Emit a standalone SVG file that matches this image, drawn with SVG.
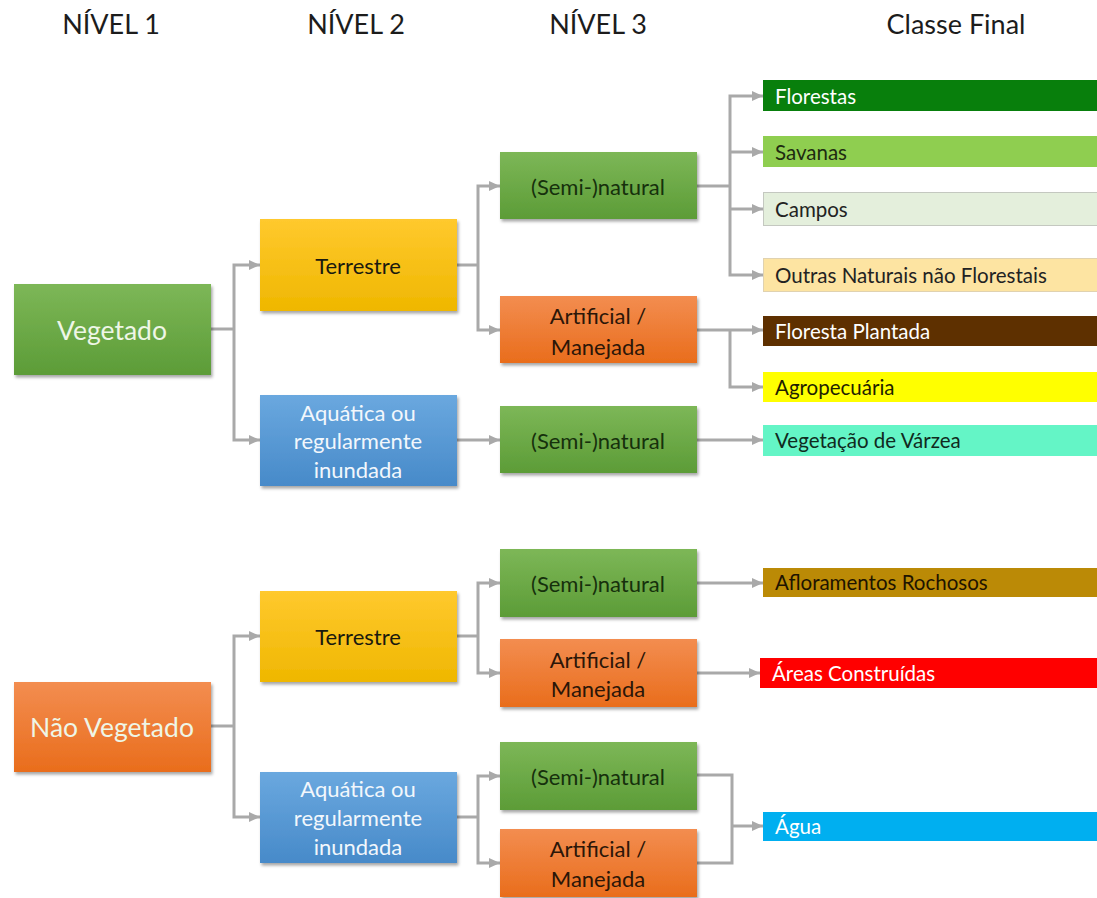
<svg xmlns="http://www.w3.org/2000/svg" width="1097" height="898" viewBox="0 0 1097 898">
  <defs>
    <linearGradient id="gGreen" x1="0" y1="0" x2="0" y2="1">
      <stop offset="0" stop-color="#7db757"/>
      <stop offset="1" stop-color="#5c9c37"/>
    </linearGradient>
    <linearGradient id="gOrange" x1="0" y1="0" x2="0" y2="1">
      <stop offset="0" stop-color="#f38d50"/>
      <stop offset="1" stop-color="#e96d1c"/>
    </linearGradient>
    <linearGradient id="gYellow" x1="0" y1="0" x2="0" y2="1">
      <stop offset="0" stop-color="#ffc92e"/>
      <stop offset="1" stop-color="#efb700"/>
    </linearGradient>
    <linearGradient id="gBlue" x1="0" y1="0" x2="0" y2="1">
      <stop offset="0" stop-color="#6aa8df"/>
      <stop offset="1" stop-color="#478ac9"/>
    </linearGradient>
    <filter id="shadow" x="-10%" y="-10%" width="125%" height="130%">
      <feDropShadow dx="1.5" dy="2.5" stdDeviation="1.8" flood-color="#000" flood-opacity="0.35"/>
    </filter>
    <marker id="arrow" markerUnits="userSpaceOnUse" markerWidth="12" markerHeight="12" refX="11" refY="6" orient="auto">
      <path d="M0,1 L11,6 L0,11 z" fill="#a9a9a9"/>
    </marker>
  </defs>
  <style>
    text { font-family: Lato, "Open Sans", "Liberation Sans", sans-serif; }
    .hdr { font-size: 27px; fill: #1c1c1c; text-anchor: middle; }
    .box { filter: url(#shadow); }
    .lbl { text-anchor: middle; dominant-baseline: central; }
    .l1 { font-size: 26.5px; fill: #eef6e6; }
    .l2 { font-size: 22px; }
    .dark { fill: #1a1a0e; }
    .darkg { fill: #16300c; }
    .darko { fill: #2b1608; }
    .light { fill: #f2f7fc; }
    .fin { font-size: 20.5px; dominant-baseline: central; }
    .conn path { fill: none; stroke: #a9a9a9; stroke-width: 3; }
    .conn path.a { marker-end: url(#arrow); }
  </style>

  <rect x="0" y="0" width="1097" height="898" fill="#ffffff"/>

  <!-- column headings -->
  <g id="headers">
    <text class="hdr" x="111" y="34">NÍVEL 1</text>
    <text class="hdr" x="356" y="34">NÍVEL 2</text>
    <text class="hdr" x="598" y="34">NÍVEL 3</text>
    <text class="hdr" x="956" y="34">Classe Final</text>
  </g>

  <!-- connectors -->
  <g id="connectors" class="conn">
    <!-- Vegetado -->
    <path d="M211,329 H234"/>
    <path class="a" d="M234,329 V265 H260"/>
    <path class="a" d="M234,329 V440 H260"/>
    <!-- Terrestre (vegetado) -->
    <path d="M457,265 H478"/>
    <path class="a" d="M478,265 V186 H500"/>
    <path class="a" d="M478,265 V330 H500"/>
    <!-- Aquatica (vegetado) -->
    <path class="a" d="M457,440 H500"/>
    <!-- (Semi-)natural terrestre -->
    <path d="M697,186 H730"/>
    <path class="a" d="M730,186 V96 H763"/>
    <path class="a" d="M730,152 H763"/>
    <path class="a" d="M730,209 H763"/>
    <path class="a" d="M730,186 V275 H763"/>
    <!-- Artificial / Manejada -->
    <path class="a" d="M697,330 H763"/>
    <path class="a" d="M730,330 V387 H763"/>
    <!-- (Semi-)natural aquatica -->
    <path class="a" d="M697,440 H763"/>
    <!-- Nao Vegetado -->
    <path d="M211,726 H234"/>
    <path class="a" d="M234,726 V636 H260"/>
    <path class="a" d="M234,726 V817 H260"/>
    <!-- Terrestre (nao vegetado) -->
    <path d="M457,636 H478"/>
    <path class="a" d="M478,636 V583 H500"/>
    <path class="a" d="M478,636 V673 H500"/>
    <path class="a" d="M697,583 H763"/>
    <path class="a" d="M697,673 H760"/>
    <!-- Aquatica (nao vegetado) -->
    <path d="M457,817 H478"/>
    <path class="a" d="M478,817 V776 H500"/>
    <path class="a" d="M478,817 V863 H500"/>
    <path d="M697,775 H732 V863 H697"/>
    <path class="a" d="M732,826 H763"/>
  </g>

  <!-- level 1 -->
  <g id="vegetado">
    <rect class="box" x="14" y="284" width="197" height="91" fill="url(#gGreen)"/>
    <text class="lbl l1" x="112" y="330">Vegetado</text>
  </g>
  <g id="nao-vegetado">
    <rect class="box" x="14" y="682" width="197" height="90" fill="url(#gOrange)"/>
    <text class="lbl l1" x="112" y="727">Não Vegetado</text>
  </g>

  <!-- level 2 -->
  <g id="terrestre-v">
    <rect class="box" x="260" y="219" width="197" height="92" fill="url(#gYellow)"/>
    <text class="lbl l2 dark" x="358" y="265">Terrestre</text>
  </g>
  <g id="aquatica-v">
    <rect class="box" x="260" y="395" width="197" height="91" fill="url(#gBlue)"/>
    <text class="lbl l2 light" x="358" y="412">Aquática ou</text>
    <text class="lbl l2 light" x="358" y="440">regularmente</text>
    <text class="lbl l2 light" x="358" y="469">inundada</text>
  </g>
  <g id="terrestre-nv">
    <rect class="box" x="260" y="591" width="197" height="91" fill="url(#gYellow)"/>
    <text class="lbl l2 dark" x="358" y="636">Terrestre</text>
  </g>
  <g id="aquatica-nv">
    <rect class="box" x="260" y="772" width="197" height="91" fill="url(#gBlue)"/>
    <text class="lbl l2 light" x="358" y="788">Aquática ou</text>
    <text class="lbl l2 light" x="358" y="817">regularmente</text>
    <text class="lbl l2 light" x="358" y="846">inundada</text>
  </g>

  <!-- level 3 -->
  <g id="seminatural-1">
    <rect class="box" x="500" y="152" width="197" height="67" fill="url(#gGreen)"/>
    <text class="lbl l2 darkg" x="598" y="186">(Semi-)natural</text>
  </g>
  <g id="artificial-1">
    <rect class="box" x="500" y="296" width="197" height="67" fill="url(#gOrange)"/>
    <text class="lbl l2 darko" x="598" y="315">Artificial /</text>
    <text class="lbl l2 darko" x="598" y="346">Manejada</text>
  </g>
  <g id="seminatural-2">
    <rect class="box" x="500" y="406" width="197" height="67" fill="url(#gGreen)"/>
    <text class="lbl l2 darkg" x="598" y="440">(Semi-)natural</text>
  </g>
  <g id="seminatural-3">
    <rect class="box" x="500" y="549" width="197" height="68" fill="url(#gGreen)"/>
    <text class="lbl l2 darkg" x="598" y="583">(Semi-)natural</text>
  </g>
  <g id="artificial-3">
    <rect class="box" x="500" y="639" width="197" height="68" fill="url(#gOrange)"/>
    <text class="lbl l2 darko" x="598" y="659">Artificial /</text>
    <text class="lbl l2 darko" x="598" y="688">Manejada</text>
  </g>
  <g id="seminatural-4">
    <rect class="box" x="500" y="742" width="197" height="68" fill="url(#gGreen)"/>
    <text class="lbl l2 darkg" x="598" y="776">(Semi-)natural</text>
  </g>
  <g id="artificial-4">
    <rect class="box" x="500" y="829" width="197" height="68" fill="url(#gOrange)"/>
    <text class="lbl l2 darko" x="598" y="848">Artificial /</text>
    <text class="lbl l2 darko" x="598" y="878">Manejada</text>
  </g>

  <!-- final classes -->
  <g id="florestas">
    <rect x="763" y="80" width="334" height="31" fill="#087f0c"/>
    <text class="fin" x="775" y="96" fill="#ffffff">Florestas</text>
  </g>
  <g id="savanas">
    <rect x="763" y="136" width="334" height="31" fill="#8fce50"/>
    <text class="fin" x="775" y="152" fill="#1e2a10">Savanas</text>
  </g>
  <g id="campos">
    <rect x="763.5" y="192.5" width="334" height="33" fill="#e4efdc" stroke="#c4c8c0" stroke-width="1"/>
    <text class="fin" x="775" y="209" fill="#222222">Campos</text>
  </g>
  <g id="outras">
    <rect x="763.5" y="258.5" width="334" height="33" fill="#fde4a2" stroke="#e0d2b0" stroke-width="1"/>
    <text class="fin" x="775" y="275" fill="#222222">Outras Naturais não Florestais</text>
  </g>
  <g id="floresta-plantada">
    <rect x="763" y="316" width="334" height="30" fill="#5e3000"/>
    <text class="fin" x="775" y="331" fill="#ffffff">Floresta Plantada</text>
  </g>
  <g id="agropecuaria">
    <rect x="763" y="372" width="334" height="30" fill="#ffff00"/>
    <text class="fin" x="775" y="387" fill="#1e1e00">Agropecuária</text>
  </g>
  <g id="varzea">
    <rect x="763" y="425" width="334" height="31" fill="#64f5c6"/>
    <text class="fin" x="775" y="440" fill="#102a20">Vegetação de Várzea</text>
  </g>
  <g id="afloramentos">
    <rect x="763" y="568" width="334" height="29" fill="#bb8a06"/>
    <text class="fin" x="775" y="582" fill="#1e1400">Afloramentos Rochosos</text>
  </g>
  <g id="areas-construidas">
    <rect x="760" y="658" width="337" height="30" fill="#ff0000"/>
    <text class="fin" x="772" y="673" fill="#ffffff">Áreas Construídas</text>
  </g>
  <g id="agua">
    <rect x="763" y="812" width="334" height="29" fill="#00aff0"/>
    <text class="fin" x="775" y="826" fill="#ffffff">Água</text>
  </g>
</svg>
